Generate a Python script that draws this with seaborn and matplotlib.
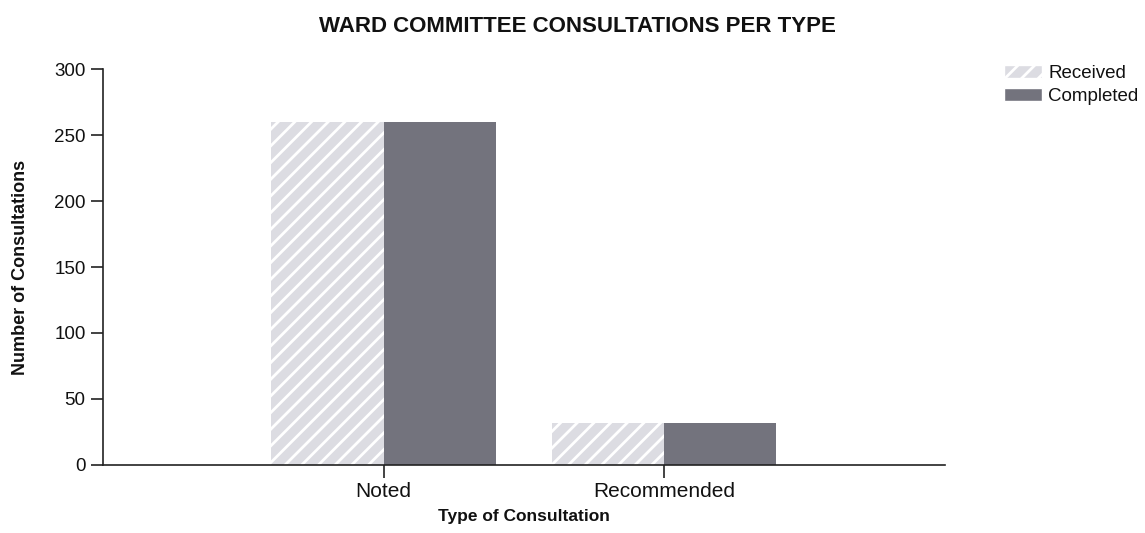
import matplotlib
matplotlib.use('Agg')
import matplotlib.pyplot as plt
import seaborn as sns
import pandas as pd

# values
types = ['Noted', 'Recommended']
received = [260, 32]
completed = [260, 32]

df = pd.DataFrame({
    'Type': types * 2,
    'Status': ['Received'] * 2 + ['Completed'] * 2,
    'Count': received + completed,
})

sns.set_style('white')
plt.rcParams['font.family'] = ['Liberation Sans', 'DejaVu Sans']
plt.rcParams['hatch.linewidth'] = 2.0
plt.rcParams['text.color'] = '#111111'

fig = plt.figure(figsize=(11.45, 5.33), dpi=100)
ax = fig.add_axes([0.09, 0.128, 0.735, 0.742])

sns.barplot(data=df, x='Type', y='Count', hue='Status',
            palette={'Received': '#dcdce2', 'Completed': '#73737d'},
            width=0.8, saturation=1, ax=ax)

# hatch the received bars
for bar in ax.containers[0]:
    bar.set_hatch('//')
    bar.set_edgecolor('white')
    bar.set_linewidth(0)
for bar in ax.containers[1]:
    bar.set_edgecolor('#73737d')
    bar.set_linewidth(0)

ax.set_xlim(-1.0, 2.0)
ax.set_ylim(0, 300)
ax.set_yticks([0, 50, 100, 150, 200, 250, 300])
sns.despine(ax=ax)
for s in ['left', 'bottom']:
    ax.spines[s].set_color('#222222')
    ax.spines[s].set_linewidth(1.2)
ax.tick_params(axis='both', direction='out', length=9, width=1.2,
               colors='#222222', labelcolor='#111111',
               left=True, bottom=True)
ax.tick_params(axis='y', labelsize=13.5)
ax.tick_params(axis='x', labelsize=15)

ax.set_xlabel('Type of Consultation', fontsize=12.5, fontweight='bold',
              labelpad=6, color='#111111')
ax.set_ylabel('Number of Consultations', fontsize=13, fontweight='bold',
              labelpad=18, color='#111111')
ax.set_title('WARD COMMITTEE CONSULTATIONS PER TYPE', fontsize=16,
             fontweight='bold', pad=27, x=0.564, color='#111111')

handles, labels = ax.get_legend_handles_labels()
handles[0].set_hatch('//')
handles[0].set_edgecolor('white')
ax.legend(handles, labels, loc='upper left', bbox_to_anchor=(1.071, 1.012),
          frameon=False, fontsize=13.5, handlelength=2.0, handleheight=0.7,
          handletextpad=0.35, labelspacing=0.35, borderaxespad=0,
          borderpad=0)

fig.savefig('out.png', dpi=100)
